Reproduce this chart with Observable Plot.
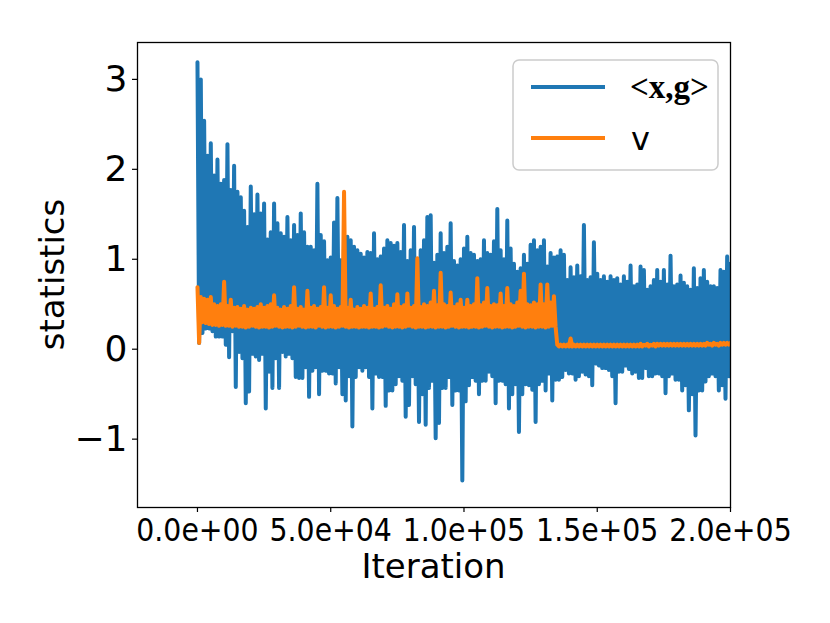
<!DOCTYPE html>
<html><head><meta charset="utf-8">
<script src="https://cdn.jsdelivr.net/npm/d3@7"></script>
<script src="https://cdn.jsdelivr.net/npm/@observablehq/plot@0.6"></script>
<style>
body{margin:0;background:#fff;}
#chart{position:relative;width:830px;height:623px;}
</style>
</head><body><div id="chart"></div>
<script>
// iteration spacing between consecutive envelope samples
const STEP = 1250;

// <x,g> : upper excursions (at i*STEP) and lower excursions (at i*STEP+STEP/2)
const blueHi = [3.19,3.0,2.54,2.15,2.29,1.93,2.11,1.84,1.88,2.28,
1.77,2.04,1.75,1.69,1.54,1.36,1.81,1.50,1.72,1.51,
1.62,1.22,1.30,1.62,1.40,1.29,1.25,1.47,1.21,1.38,
1.27,1.51,1.30,1.14,1.14,1.10,1.84,1.27,1.20,0.99,
1.02,1.41,1.68,0.99,1.20,1.25,1.21,1.14,1.10,1.06,
1.02,1.08,1.07,1.29,1.00,1.03,1.12,1.21,1.18,1.15,
1.18,1.08,1.38,0.98,1.10,1.36,0.91,1.10,1.21,1.47,
1.49,0.96,1.05,1.29,1.07,1.14,1.40,0.98,0.93,1.00,
1.12,1.25,1.07,1.05,0.98,1.00,1.21,1.07,1.05,1.20,
1.56,1.10,1.00,1.43,1.12,0.95,0.86,0.90,1.05,0.95,
1.16,1.21,1.10,1.14,1.21,0.92,1.07,1.02,1.03,1.10,
1.05,0.77,0.91,0.80,0.93,0.81,1.38,0.77,0.80,1.19,
0.84,0.77,0.81,0.75,0.81,0.77,0.79,0.72,0.81,0.75,
0.93,0.70,0.72,0.92,0.88,0.66,0.70,0.77,0.88,0.75,
0.88,0.72,1.04,0.70,0.72,0.82,0.74,0.70,0.66,0.90,
0.68,0.79,0.88,0.75,0.70,0.70,0.68,0.88,0.86,1.03,
0.95];
const blueLo = [0.07,0.18,0.23,0.23,0.20,0.14,0.14,0.14,0.05,-0.09,
0.20,-0.42,-0.03,-0.10,-0.60,-0.47,-0.05,-0.08,-0.12,-0.05,
-0.66,-0.25,-0.43,-0.10,-0.43,-0.03,-0.08,-0.05,-0.10,-0.31,
-0.32,-0.32,-0.20,-0.53,-0.24,-0.20,-0.50,-0.24,-0.24,-0.27,
-0.27,-0.38,-0.20,-0.50,-0.57,-0.30,-0.86,-0.31,-0.20,-0.24,
-0.20,-0.31,-0.66,-0.27,-0.31,-0.31,-0.63,-0.46,-0.46,-0.39,
-0.30,-0.35,-0.75,-0.62,-0.30,-0.39,-0.81,-0.50,-0.84,-0.43,
-0.35,-0.99,-0.82,-0.43,-0.43,-0.31,-0.62,-0.46,-0.46,-1.46,
-0.58,-0.40,-0.31,-0.35,-0.50,-0.35,-0.35,-0.25,-0.30,-0.60,
-0.35,-0.35,-0.39,-0.66,-0.50,-0.39,-0.92,-0.50,-0.39,-0.40,
-0.45,-0.81,-0.39,-0.35,-0.46,-0.27,-0.57,-0.34,-0.34,-0.31,
-0.23,-0.27,-0.27,-0.34,-0.30,-0.25,-0.28,-0.30,-0.40,-0.16,
-0.18,-0.21,-0.21,-0.23,-0.30,-0.60,-0.25,-0.25,-0.18,-0.22,
-0.27,-0.25,-0.32,-0.32,-0.21,-0.30,-0.30,-0.27,-0.27,-0.30,
-0.49,-0.30,-0.27,-0.34,-0.34,-0.46,-0.40,-0.68,-0.50,-0.96,
-0.46,-0.46,-0.36,-0.30,-0.27,-0.30,-0.46,-0.40,-0.55,-0.30];

// v
const orangeHi = [0.69,0.58,0.56,0.55,0.58,0.50,0.48,0.50,0.75,0.48,
0.55,0.46,0.47,0.45,0.48,0.44,0.46,0.45,0.47,0.50,
0.46,0.48,0.50,0.60,0.46,0.44,0.47,0.45,0.48,0.69,
0.45,0.47,0.44,0.65,0.46,0.48,0.45,0.47,0.69,0.46,
0.60,0.48,0.45,0.47,1.75,0.46,0.55,0.44,0.47,0.45,
0.48,0.46,0.62,0.45,0.47,0.71,0.46,0.48,0.45,0.50,
0.61,0.47,0.49,0.62,0.46,0.48,1.01,0.47,0.50,0.48,
0.52,0.65,0.49,0.85,0.50,0.48,0.63,0.47,0.50,0.55,
0.46,0.55,0.48,0.50,0.79,0.49,0.52,0.68,0.48,0.50,
0.49,0.62,0.48,0.68,0.50,0.48,0.52,0.65,0.84,0.50,
0.49,0.52,0.50,0.72,0.50,0.72,0.52,0.59,0.05,0.05,
0.05,0.05,0.12,0.05,0.05,0.05,0.05,0.05,0.05,0.05,
0.05,0.05,0.05,0.05,0.05,0.05,0.05,0.05,0.05,0.05,
0.05,0.05,0.05,0.06,0.05,0.06,0.05,0.06,0.06,0.06,
0.06,0.06,0.06,0.06,0.06,0.06,0.06,0.06,0.06,0.06,
0.06,0.06,0.06,0.07,0.06,0.07,0.06,0.07,0.07,0.07,
0.07];
const orangeLo = [0.07,0.30,0.29,0.28,0.27,0.27,0.26,0.27,0.26,0.26,
0.25,0.26,0.25,0.25,0.24,0.25,0.26,0.25,0.24,0.25,
0.25,0.24,0.25,0.26,0.25,0.24,0.25,0.25,0.24,0.25,
0.26,0.25,0.24,0.25,0.25,0.24,0.26,0.25,0.24,0.25,
0.25,0.24,0.25,0.26,0.25,0.24,0.25,0.25,0.24,0.25,
0.25,0.24,0.25,0.25,0.24,0.25,0.26,0.25,0.24,0.25,
0.25,0.24,0.25,0.26,0.25,0.24,0.25,0.25,0.24,0.25,
0.25,0.24,0.25,0.25,0.24,0.25,0.26,0.25,0.24,0.25,
0.25,0.24,0.25,0.25,0.24,0.25,0.26,0.25,0.24,0.25,
0.25,0.24,0.25,0.25,0.24,0.25,0.26,0.25,0.24,0.25,
0.25,0.24,0.25,0.25,0.24,0.25,0.26,0.25,0.03,0.03,
0.03,0.03,0.03,0.03,0.03,0.03,0.03,0.03,0.03,0.03,
0.03,0.03,0.03,0.03,0.03,0.03,0.03,0.03,0.03,0.03,
0.03,0.03,0.03,0.03,0.04,0.03,0.04,0.03,0.04,0.04,
0.04,0.04,0.04,0.04,0.04,0.04,0.04,0.04,0.04,0.04,
0.04,0.04,0.04,0.05,0.04,0.05,0.04,0.05,0.05,0.05];

const xTicks = [0, 50000, 100000, 150000, 200000];
const yTicks = [-1, 0, 1, 2, 3];
const seriesNames = ["<x,g>", "v"];
const seriesColors = ["#1f77b4", "#ff7f0e"];
const xLabel = "Iteration";
const yLabel = "statistics";

function zigzag(hi, lo, name) {
  const out = [];
  for (let i = 0; i < hi.length; i++) {
    out.push({it: i * STEP, v: hi[i], s: name});
    if (i < lo.length) out.push({it: i * STEP + STEP / 2, v: lo[i], s: name});
  }
  return out;
}
const blueData = zigzag(blueHi, blueLo, seriesNames[0]);
const orangeData = zigzag(orangeHi, orangeLo, seriesNames[1]);

const fmtX = d => d.toExponential(1).replace(/e([+-])(\d)$/, (m, s, e) => "e" + s + "0" + e);
const fmtY = d => d < 0 ? "\u2212" + (-d) : String(d);

const chart = Plot.plot({
  width: 830, height: 623,
  marginLeft: 137, marginRight: 100, marginTop: 42, marginBottom: 116,
  x: {domain: [-22500, 200000]},
  y: {domain: [-1.76, 3.41]},
  style: {fontFamily: "DejaVu Sans", background: "white", color: "black", overflow: "visible"},
  marks: [
    Plot.line(blueData, {x: "it", y: "v", stroke: seriesColors[0], strokeWidth: 4, strokeLinejoin: "round", clip: true}),
    Plot.line(orangeData, {x: "it", y: "v", stroke: seriesColors[1], strokeWidth: 4, strokeLinejoin: "round", clip: true}),
    Plot.frame({stroke: "black", strokeWidth: 1.3}),
    Plot.axisX({ticks: xTicks, tickFormat: fmtX, tickSize: 5, tickPadding: 6, fontSize: 31.5, label: null, strokeWidth: 1.2}),
    Plot.axisY({ticks: yTicks, tickFormat: fmtY, tickSize: 5, tickPadding: 5, fontSize: 36, label: null, strokeWidth: 1.2})
  ]
});
document.getElementById("chart").appendChild(chart);

const svg = d3.select(chart);
svg.selectAll('g[aria-label="x-axis tick label"] text').attr("font-family", "DejaVu Sans Condensed, DejaVu Sans").attr("fill", "black");
svg.selectAll('g[aria-label="y-axis tick label"] text').attr("fill", "black");

svg.append("text").attr("x", 433.5).attr("y", 578).attr("text-anchor", "middle")
  .attr("font-family", "DejaVu Sans").attr("font-size", 34).attr("fill", "black").text(xLabel);
svg.append("text").attr("transform", "translate(64,274.5) rotate(-90)").attr("text-anchor", "middle")
  .attr("font-family", "DejaVu Sans").attr("font-size", 34).attr("fill", "black").text(yLabel);

// legend
const lg = svg.append("g").attr("text-anchor", "start");
lg.append("rect").attr("x", 513).attr("y", 60).attr("width", 205).attr("height", 110).attr("rx", 6)
  .attr("fill", "white").attr("fill-opacity", 0.8).attr("stroke", "#cccccc").attr("stroke-width", 1.5);
lg.append("line").attr("x1", 531).attr("x2", 605).attr("y1", 87).attr("y2", 87)
  .attr("stroke", seriesColors[0]).attr("stroke-width", 4);
lg.append("text").attr("x", 630).attr("y", 98).attr("text-anchor", "start").attr("font-family", "Liberation Serif").attr("font-weight", "bold")
  .attr("font-size", 33).attr("fill", "black").text(seriesNames[0]);
lg.append("line").attr("x1", 531).attr("x2", 605).attr("y1", 138).attr("y2", 138)
  .attr("stroke", seriesColors[1]).attr("stroke-width", 4);
lg.append("text").attr("x", 631).attr("y", 150).attr("text-anchor", "start").attr("font-family", "DejaVu Sans")
  .attr("font-size", 32).attr("fill", "black").text(seriesNames[1]);
</script>
</body></html>
